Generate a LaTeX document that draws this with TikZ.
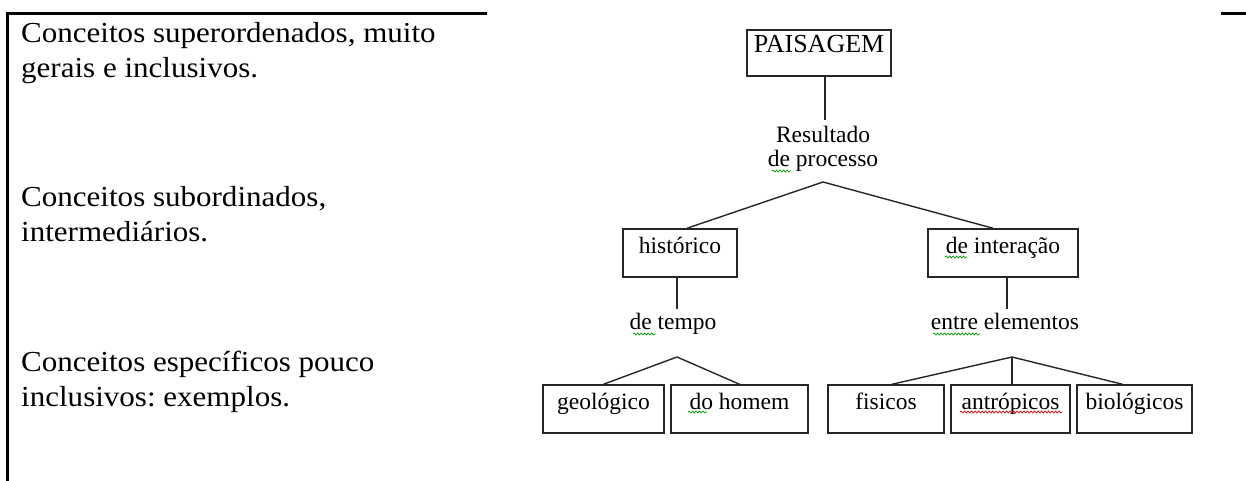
\documentclass[tikz,border=0pt]{standalone}
\usepackage{fontspec}
\setmainfont{Liberation Serif}
\newfontfamily\leftfam[FakeStretch=1.07]{Liberation Serif}
\usetikzlibrary{calc,decorations.pathmorphing}
\newcommand\leftfnt{\leftfam\fontsize{29pt}{35pt}\selectfont}
\newcommand\diagfnt{\fontsize{23.5pt}{26pt}\selectfont}
\newcommand\paisfnt{\fontsize{26pt}{30pt}\selectfont}
\frenchspacing
\begin{document}
\begin{tikzpicture}[x=1pt,y=-1pt,
  frame/.style={line width=2.4pt, black},
  conn/.style={line width=1.4pt, black!85},
  cbox/.style={draw=black!85, line width=1.5pt, inner xsep=0pt, inner ysep=0pt,
    text height=24pt, text depth=24pt, font=\diagfnt},
  lbl/.style={inner sep=0pt, font=\diagfnt, anchor=base},
  ltxt/.style={inner sep=0pt, font=\leftfnt, anchor=base west},
  gsq/.style={draw=green!60!black, line width=0.7pt, decorate,
    decoration={snake, amplitude=1pt, segment length=3.5pt}},
  rsq/.style={draw=red!85!black, line width=0.7pt, decorate,
    decoration={snake, amplitude=1pt, segment length=3.5pt}}
]
\useasboundingbox (0,0) rectangle (1246,481);
% frame
\draw[frame] (7.5,481) -- (7.5,13.5) -- (487,13.5);
\draw[frame] (1221,13.5) -- (1246,13.5);
% left texts
\node[ltxt] (t1a) at (21,43) {Conceitos superordenados, muito};
\node[ltxt] (t1b) at (21,78) {gerais e inclusivos.};
\node[ltxt] (t2a) at (21,206) {Conceitos subordinados,};
\node[ltxt] (t2b) at (21,241) {intermediários.};
\node[ltxt] (t3a) at (21,371) {Conceitos específicos pouco};
\node[ltxt] (t3b) at (21,406) {inclusivos: exemplos.};
% level 1
\node[cbox, minimum width=144pt, text height=23pt, text depth=23pt, font=\paisfnt] (pais) at (819,53) {PAISAGEM};
\node[lbl] (res1) at (823,143) {Resultado};
\node[lbl] (res2) at (823,167) {de processo};
\coordinate (rtop) at (825,120);
\coordinate (rapex) at (823,182);
\draw[conn] (rtop |- pais.south) -- (rtop);
% level 2
\node[cbox, minimum width=114pt] (hist) at (680,253) {histórico};
\node[cbox, minimum width=150pt] (inter) at (1003,253) {de interação};
\draw[conn] ($(hist.north)+(7,0)$) -- (rapex) -- ($(inter.north)+(-10,0)$);
\coordinate (htop) at (677,309);
\coordinate (itop) at (1007,309);
\draw[conn] (htop |- hist.south) -- (htop);
\draw[conn] (itop |- inter.south) -- (itop);
\node[lbl] (tempo) at (673,329) {de tempo};
\node[lbl] (entre) at (1005,329) {entre elementos};
\coordinate (tapex) at (677,357);
\coordinate (eapex) at (1012,357);
% level 3
\node[cbox, minimum width=121pt] (geo) at (603.5,409) {geológico};
\node[cbox, minimum width=137pt] (hom) at (739.5,409) {do homem};
\node[cbox, minimum width=116pt] (fis) at (886,409) {fisicos};
\node[cbox, minimum width=119pt] (ant) at (1010.5,409) {antrópicos};
\node[cbox, minimum width=115pt] (bio) at (1134.5,409) {biológicos};
\draw[conn] (geo.north) -- (tapex) -- (hom.north);
\draw[conn] ($(fis.north)+(6,0)$) -- (eapex) -- ($(bio.north)+(-12,0)$);
\draw[conn] (eapex) -- (eapex |- ant.north);
% spell-check squiggles
\draw[gsq] (772,171) -- (791,171);
\draw[gsq] (945,257) -- (967,257);
\draw[gsq] (633,334) -- (656,334);
\draw[gsq] (688,412) -- (707,412);
\draw[gsq] (933,334) -- (980,334);
\draw[rsq] (960,412) -- (1062,412);
\end{tikzpicture}
\end{document}
